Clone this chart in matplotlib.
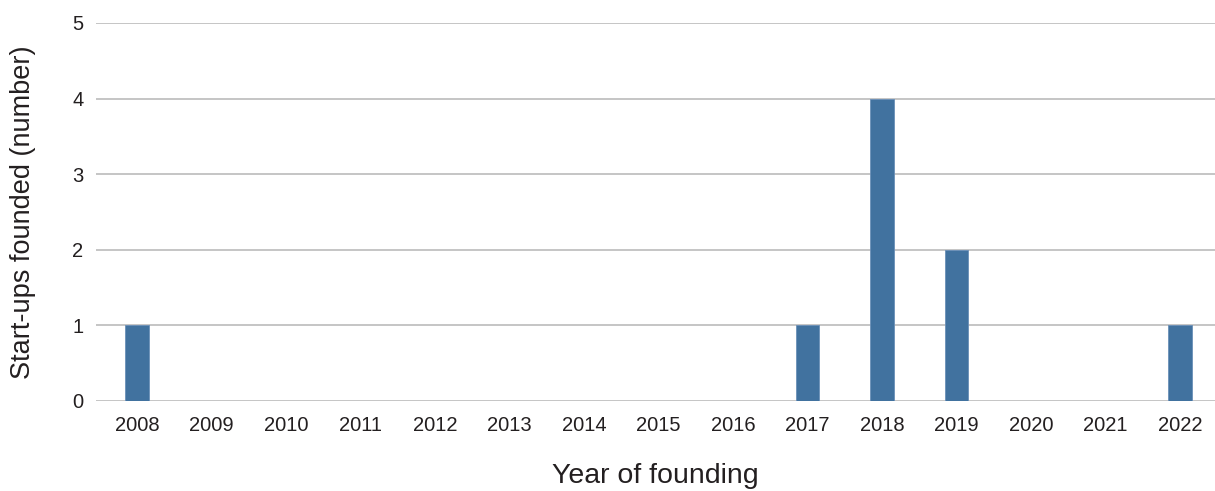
import matplotlib
matplotlib.use("Agg")
import matplotlib.pyplot as plt

years = ["2008", "2009", "2010", "2011", "2012", "2013", "2014", "2015",
         "2016", "2017", "2018", "2019", "2020", "2021", "2022"]
startups = [1, 0, 0, 0, 0, 0, 0, 0, 0, 1, 4, 2, 0, 0, 1]

plt.rcParams['font.family'] = ['Liberation Sans', 'DejaVu Sans']

fig = plt.figure(figsize=(12.15, 4.91), dpi=100)
ax = fig.add_axes([96/1215, 1-401/491, 1-96/1215, (401-23)/491])

x = list(range(len(years)))
ax.bar(x, startups, width=0.32, color="#41729f", edgecolor="#6a90b8", linewidth=0.6, zorder=3)

ax.set_xlim(-0.55, 14.47)
ax.set_ylim(0, 5)
ax.set_yticks([0, 1, 2, 3, 4, 5])
ax.set_xticks(x)
ax.set_xticklabels(years)
ax.grid(axis='y', color="#c0c0c0", linewidth=1.3, zorder=0)
ax.grid(axis='x', visible=False)
for s in ax.spines.values():
    s.set_visible(False)
ax.tick_params(axis='both', length=0, labelsize=14.5, colors="#231f20")
ax.tick_params(axis='y', pad=9)
ax.tick_params(axis='x', pad=11)
ax.set_xlabel("Year of founding", fontsize=20.5, color="#231f20", labelpad=20)
ax.set_ylabel("Start-ups founded (number)", fontsize=19.5, color="#231f20", labelpad=26)

fig.savefig("out.png", dpi=100)
